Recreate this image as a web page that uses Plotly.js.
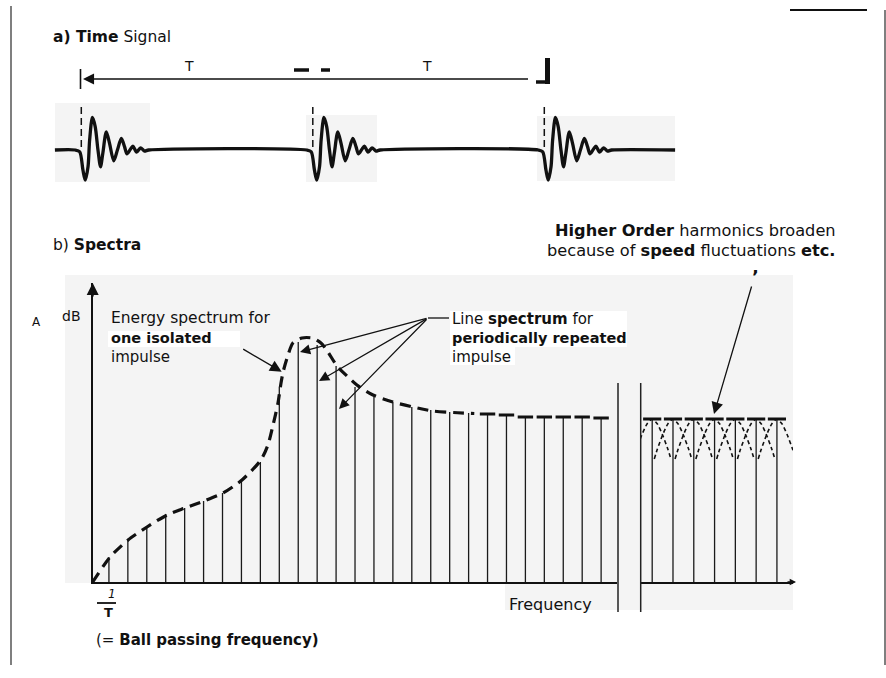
<!DOCTYPE html>
<html><head><meta charset="utf-8">
<script src="https://cdn.plot.ly/plotly-3.0.1.min.js"></script>
<style>html,body{margin:0;padding:0;background:#fff}</style>
</head><body><div id="chart" style="width:886px;height:678px"></div>
<script>
// ================= DATA =================
// a) time signal (time in ms, period T = 10 ms, amplitude normalised)
const pulseStarts = [0, 10, 20];
const pulseT = [-0.26,-0.07,0.07,0.17,0.29,0.36,0.48,0.60,0.72,0.83,0.93,1.08,1.22,1.40,1.56,1.73,1.87,1.97,2.12,2.23,2.39,2.56,2.73,2.91];
const pulseA = [0,-0.05,-0.57,-0.86,-0.48,0.29,0.93,0.67,0,-0.48,-0.09,0.52,0.19,-0.31,0,0.33,0.09,-0.11,0.02,0.11,-0.06,0.06,-0.03,0];
const signalStart = -1.14, signalEnd = 25.65;

// b) spectra (frequency in multiples of 1/T, level in dB)
const harmonics = [1,2,3,4,5,6,7,8,9,10,11,12,13,14,15,16,17,18,19,20,21,22,23,24,25,26,27];
const lineDb = [2.5,4.2,5.5,6.8,7.4,8.1,8.9,10.2,12.0,19.5,24.0,23.7,21.6,19.5,18.5,18.0,17.5,17.2,17.0,16.9,16.8,16.7,16.5,16.5,16.5,16.5,16.4];
const envN  = [0.143,1.06,2.01,3.01,4.07,5.02,6.02,7.03,8.03,9.03,9.40,9.67,9.93,10.09,10.2,10.41,10.72,11.2,11.73,12.2,12.57,13.05,13.58,14.1,14.95,16.0,17.06,18.12,19.2,20.3];
const envDb = [0,2.5,4.2,5.5,6.7,7.4,8.1,8.9,10.2,12.2,13.7,15.7,17.9,19.9,21.0,22.4,23.9,24.4,24.4,23.9,23.0,21.6,20.6,19.7,18.7,18.0,17.5,17.1,16.95,16.85];
const capHarm = [21,22,23,24,25,26,27];
const capDb = [16.8,16.7,16.5,16.5,16.5,16.5,16.4];
const highHarm = [60,61,62,63,64,65,66];
const highDb = [16.3,16.3,16.3,16.3,16.3,16.3,16.3];
const broadDx = [-0.9,-0.75,-0.5,-0.25,0,0.25,0.5,0.75,0.9];
const broadDrop = [4.0,3.0,1.6,0.5,0,0.5,1.6,3.0,4.0];

// ================= HELPERS =================
const W = 886, H = 678;
const X = v => v / W, Y = v => 1 - v / H;
const FONT = 'DejaVu Sans';
const INK = '#111';

// time signal
const sx = [signalStart], sy = [0];
pulseStarts.forEach(p => { pulseT.forEach((t, i) => { sx.push(p + t); sy.push(pulseA[i]); }); });
sx.push(signalEnd); sy.push(0);

// line spectrum
const lx = [], ly = [];
harmonics.forEach((n, i) => { lx.push(n, n, null); ly.push(0, lineDb[i], null); });
const hx = [], hy = [];
highHarm.forEach((n, i) => { hx.push(n, n, null); hy.push(0, highDb[i], null); });
const bx = [], by = [];
highHarm.forEach((n, i) => { broadDx.forEach((d, j) => { bx.push(n + d); by.push(highDb[i] - broadDrop[j]); }); bx.push(null); by.push(null); });

const traces = [
  {x: sx, y: sy, xaxis: 'x3', yaxis: 'y3', mode: 'lines', line: {color: INK, width: 3.3, shape: 'spline', smoothing: 0.8}},
  {x: lx, y: ly, xaxis: 'x', yaxis: 'y', mode: 'lines', line: {color: '#1a1a1a', width: 1.3}},
  {x: envN, y: envDb, xaxis: 'x', yaxis: 'y', mode: 'lines', line: {color: INK, width: 3.2, dash: '11px,7px', shape: 'spline', smoothing: 0.7}},
  {x: capHarm, y: capDb, xaxis: 'x', yaxis: 'y', mode: 'markers', marker: {symbol: 'line-ew', size: 11, line: {color: INK, width: 3}}},
  {x: hx, y: hy, xaxis: 'x2', yaxis: 'y', mode: 'lines', line: {color: '#1a1a1a', width: 1.3}},
  {x: bx, y: by, xaxis: 'x2', yaxis: 'y', mode: 'lines', line: {color: INK, width: 1.6, dash: '4px,3px', shape: 'spline', smoothing: 0.6}},
  {x: highHarm, y: highDb, xaxis: 'x2', yaxis: 'y', mode: 'markers', marker: {symbol: 'line-ew', size: 13, line: {color: INK, width: 3}}}
];

const hidden = {visible: false, fixedrange: true};
const specAx = {showline: true, linecolor: INK, linewidth: 1.8, showgrid: false, zeroline: false, showticklabels: false, ticks: '', fixedrange: true};

function rect(x0, y0, x1, y1, fill) {
  return {type: 'rect', xref: 'paper', yref: 'paper', x0: X(x0), x1: X(x1), y0: Y(y1), y1: Y(y0), fillcolor: fill, line: {width: 0}, layer: 'below'};
}
function seg(x0, y0, x1, y1, w, col, dash) {
  return {type: 'line', xref: 'paper', yref: 'paper', x0: X(x0), x1: X(x1), y0: Y(y0), y1: Y(y1), line: {color: col || INK, width: w, dash: dash || 'solid'}};
}

const shapes = [
  rect(65, 275, 793, 583, '#f4f4f4'),
  rect(505, 583, 793, 610, '#f4f4f4'),
  rect(108, 331, 240, 347, '#ffffff'),
  rect(450, 311, 627, 347, '#ffffff'),
  rect(450, 347, 515, 365, '#ffffff'),
  rect(55, 103, 150, 182, '#f4f4f4'),
  rect(306, 115, 377, 182, '#f4f4f4'),
  rect(537, 116, 675, 181, '#f4f4f4'),
  // page frame fragments
  seg(11, 6, 11, 665, 1.5, '#555'),
  seg(790, 10, 867, 10, 2.2),
  seg(885, 10, 885, 665, 1.5, '#555'),
  // period arrow decorations
  seg(80.5, 69, 80.5, 89, 1.6),
  seg(547.5, 58, 547.5, 84, 5),
  seg(536, 82, 550, 82, 3.5),
  seg(294, 70, 309, 70, 3.5),
  seg(321, 70, 330, 70, 3.5),
  // axis break
  seg(618, 383, 618, 612, 1.5, '#222'),
  seg(640.7, 383, 640.7, 612, 1.5, '#222'),
  // leader line for line-spectrum label
  seg(428, 318, 449, 318, 1.3),
  // 1/T fraction bar
  seg(97, 603, 116, 603, 1.8)
];
// dashed markers at each impulse start
pulseStarts.forEach(p => shapes.push({type: 'line', xref: 'x3', yref: 'paper', x0: p, x1: p, y0: Y(147), y1: Y(103), line: {color: INK, width: 1.5, dash: '7px,4px'}}));

function txt(x, y, text, size, anchor, extra) {
  return Object.assign({xref: 'paper', yref: 'paper', x: X(x), y: Y(y), text: text, showarrow: false, xanchor: anchor || 'left', yanchor: 'middle', borderpad: 0, font: {family: FONT, size: size, color: INK}}, extra || {});
}
function arr(tipX, tipY, tailX, tailY, w, s) {
  return {xref: 'paper', yref: 'paper', x: X(tipX), y: Y(tipY), ax: tailX - tipX, ay: tailY - tipY, text: '', showarrow: true, arrowhead: 2, arrowwidth: w, arrowsize: s, arrowcolor: INK, standoff: 0, startstandoff: 0};
}

const annotations = [
  txt(52, 37, '<b>a) Time</b> Signal', 15.5),
  txt(189, 66, 'T', 14, 'center'),
  txt(426.5, 66, 'T', 14, 'center'),
  txt(52, 245, 'b) <b>Spectra</b>', 15.5),
  txt(695, 231, '<b>Higher Order</b> harmonics broaden', 16.2, 'center'),
  txt(691, 251, 'because of <b>speed</b> fluctuations <b>etc.</b>', 16.2, 'center'),
  txt(755, 277, '<b>’</b>', 18, 'center'),
  txt(71, 316, 'dB', 14, 'center'),
  txt(36, 322, 'A', 12, 'center'),
  txt(110, 318, 'Energy spectrum for', 15.5),
  txt(110, 338, '<b>one isolated</b>', 14.5),
  txt(110, 357, 'impulse', 15),
  txt(451, 319, 'Line <b>spectrum</b> for', 15),
  txt(451, 338, '<b>periodically repeated</b>', 14.5),
  txt(451, 357, 'impulse', 15),
  txt(508, 604, 'Frequency', 16),
  txt(112, 594, '<i>1</i>', 12, 'center'),
  txt(108, 612, '<b>T</b>', 13, 'center'),
  txt(95, 640, '(= <b>Ball passing frequency)</b>', 15),
  // arrows
  arr(83, 79, 529.5, 79, 1.3, 1.7),
  arr(281.7, 371.7, 241.7, 348.3, 1.3, 1.8),
  arr(300, 352, 428, 318, 1.2, 1.7),
  arr(319, 381, 428, 318, 1.2, 1.7),
  arr(339, 409, 428, 318, 1.2, 1.7),
  arr(714, 414, 752, 285, 1.3, 1.8),
  arr(92.7, 283, 92.7, 298, 2, 1.2),
  arr(796, 582, 786, 582, 1.4, 0.9)
];

const layout = {
  width: W, height: H, autosize: false,
  margin: {l: 0, r: 0, t: 0, b: 0, pad: 0},
  paper_bgcolor: '#ffffff', plot_bgcolor: 'rgba(0,0,0,0)',
  showlegend: false, hovermode: false,
  xaxis: Object.assign({domain: [X(92.7), X(617)], range: [0.1426, 27.839], anchor: 'y'}, specAx),
  xaxis2: Object.assign({domain: [X(640), X(793)], range: [59.413, 66.773], anchor: 'y'}, specAx),
  yaxis: Object.assign({domain: [Y(582), Y(283)], range: [0, 29.9], anchor: 'x'}, specAx),
  xaxis3: Object.assign({domain: [0, 1], range: [-3.512, 34.760], anchor: 'y3'}, hidden),
  yaxis3: Object.assign({domain: [Y(190), Y(100)], range: [-40/35, 50/35], anchor: 'x3'}, hidden),
  shapes: shapes,
  annotations: annotations
};

Plotly.newPlot('chart', traces, layout, {staticPlot: true, displayModeBar: false});
</script>
</body></html>
